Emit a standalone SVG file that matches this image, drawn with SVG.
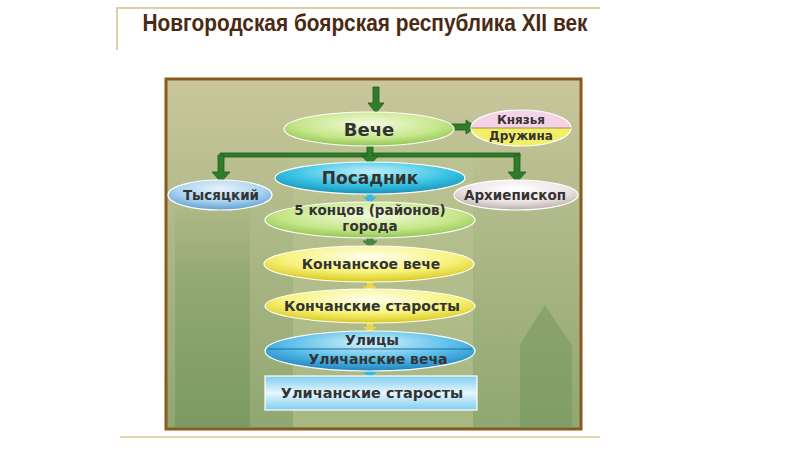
<svg xmlns="http://www.w3.org/2000/svg" width="800" height="450" viewBox="0 0 800 450">
<defs>
<linearGradient id="bg" x1="0" y1="0" x2="0" y2="1">
<stop offset="0" stop-color="#c9c79c"/><stop offset="0.45" stop-color="#adb887"/><stop offset="1" stop-color="#8fa772"/>
</linearGradient>
<linearGradient id="side" x1="0" y1="0" x2="0" y2="1"><stop offset="0" stop-color="#8aa26a" stop-opacity="0"/><stop offset="0.4" stop-color="#7f9c64" stop-opacity="0.5"/><stop offset="1" stop-color="#6f905a" stop-opacity="0.6"/></linearGradient>
<radialGradient id="gGreen" cx="0.5" cy="0.35" r="0.7"><stop offset="0" stop-color="#f4fbe0"/><stop offset="0.6" stop-color="#c6e68a"/><stop offset="1" stop-color="#86bf48"/></radialGradient>
<radialGradient id="gCyan" cx="0.5" cy="0.3" r="0.7"><stop offset="0" stop-color="#bff0fb"/><stop offset="0.6" stop-color="#39c3e3"/><stop offset="1" stop-color="#1790b8"/></radialGradient>
<radialGradient id="gLblue" cx="0.5" cy="0.3" r="0.7"><stop offset="0" stop-color="#e8f4fc"/><stop offset="0.6" stop-color="#a9d2f0"/><stop offset="1" stop-color="#5f9fd2"/></radialGradient>
<radialGradient id="gGrey" cx="0.5" cy="0.3" r="0.7"><stop offset="0" stop-color="#ffffff"/><stop offset="0.6" stop-color="#ece4e4"/><stop offset="1" stop-color="#b9aeae"/></radialGradient>
<radialGradient id="gYellow" cx="0.5" cy="0.3" r="0.7"><stop offset="0" stop-color="#fffff0"/><stop offset="0.6" stop-color="#f7f27a"/><stop offset="1" stop-color="#d8c81e"/></radialGradient>
<radialGradient id="gBlue" cx="0.5" cy="0.3" r="0.7"><stop offset="0" stop-color="#d9f2fc"/><stop offset="0.55" stop-color="#5cc0ea"/><stop offset="1" stop-color="#1d84c2"/></radialGradient>
<linearGradient id="gRect" x1="0" y1="0" x2="0" y2="1"><stop offset="0" stop-color="#7fcdf0"/><stop offset="0.5" stop-color="#e6f6fd"/><stop offset="1" stop-color="#7fcdf0"/></linearGradient>
</defs>
<style>
.t{font-family:"DejaVu Sans","Liberation Sans",sans-serif;font-weight:bold;fill:#333333;text-anchor:middle}
.s{font-size:14px}
.m{font-size:13.5px}
.n{stroke:#ffffff;stroke-width:1.2}
.ga{fill:#2f7d2a;stroke:#1f5a1c;stroke-width:0.8}
.ca{fill:#3ab8df}
.ya{fill:#e8d84a}
</style>
<rect width="800" height="450" fill="#ffffff"/>
<g id="title">
<path d="M117 50 V8 H600" fill="none" stroke="#d9bf86" stroke-width="1.5"/>
<text x="365" y="31" font-family="'Liberation Sans',Arial,sans-serif" font-weight="bold" font-size="24" fill="#4a2a12" text-anchor="middle" textLength="445" lengthAdjust="spacingAndGlyphs">Новгородская боярская республика XII век</text>
<line x1="120" y1="437" x2="600" y2="437" stroke="#e2c48c" stroke-width="1.5"/>
</g>
<g id="picture">
<rect x="166" y="79" width="415" height="350" fill="url(#bg)" stroke="#8a5a1c" stroke-width="3"/>
<rect x="293" y="145" width="180" height="282" fill="#bcc592" opacity="0.55"/>
<rect x="175" y="190" width="75" height="238" fill="url(#side)"/>
<path d="M520 428 V345 L532 325 L545 305 L558 325 L572 345 V428 Z" fill="#6f905a" opacity="0.45"/>
</g>
<g id="connectors">
<path class="ga" d="M373 87 H379 V103 H384 L376 113 L368 103 H373 Z"/>
<path class="ga" d="M448 124 H466 V120 L476 127 L466 134 V130 H448 Z"/>
<path class="ga" d="M220 153 H520 V157 H220 Z"/>
<path class="ga" d="M367 146 H373 V156 H378 L370 165 L362 156 H367 Z"/>
<path class="ga" d="M218 155 H224 V172 H230 L221 182 L212 172 H218 Z"/>
<path class="ga" d="M514 155 H520 V172 H526 L517 182 L508 172 H514 Z"/>
<path class="ca" d="M367 193 H373 V197 H377 L370 203 L363 197 H367 Z"/>
<path class="ga" d="M367 237 H373 V241 H377 L370 247 L363 241 H367 Z" opacity="0.8"/>
<path class="ya" d="M367 281 H373 V286 H377 L370 292 L363 286 H367 Z"/>
<path class="ya" d="M367 323 H373 V327 H377 L370 333 L363 327 H367 Z"/>
<path class="ca" d="M367 369 H373 V372 H377 L370 378 L363 372 H367 Z"/>
</g>
<g id="veche"><ellipse class="n" cx="369" cy="129" rx="85" ry="17" fill="url(#gGreen)"/><text class="t" x="369" y="136" font-size="18">Вече</text></g>
<g id="knyazya">
<path d="M471 128 A50 18 0 0 1 571 128 Z" fill="#f5d3e6"/>
<path d="M471 128 A50 18 0 0 0 571 128 Z" fill="#f2ee66"/>
<ellipse cx="521" cy="128" rx="50" ry="18" fill="none" stroke="#ffffff" stroke-width="1.2"/>
<line x1="471" y1="128" x2="571" y2="128" stroke="#8a7a40" stroke-width="0.8"/>
<text class="t" x="521" y="124" font-size="12">Князья</text>
<text class="t" x="521" y="140" font-size="12">Дружина</text>
</g>
<g id="posadnik"><ellipse class="n" cx="370" cy="178" rx="95" ry="16" fill="url(#gCyan)"/><text class="t" x="370" y="184" font-size="17">Посадник</text></g>
<g id="tysyatsky"><ellipse class="n" cx="220" cy="195" rx="52" ry="15" fill="url(#gLblue)"/><text class="t m" x="221" y="200">Тысяцкий</text></g>
<g id="arkhiepiskop"><ellipse class="n" cx="516" cy="195" rx="62" ry="15" fill="url(#gGrey)"/><text class="t m" x="515" y="200">Архиепископ</text></g>
<g id="kontsy"><ellipse class="n" cx="370" cy="220" rx="105" ry="18" fill="url(#gGreen)"/><text class="t m" x="370" y="215">5 концов (районов)</text><text class="t m" x="370" y="231">города</text></g>
<g id="konchanskoe-veche"><ellipse class="n" cx="369" cy="264" rx="105" ry="18" fill="url(#gYellow)"/><text class="t s" x="371" y="269">Кончанское вече</text></g>
<g id="konchanskie-starosty"><ellipse class="n" cx="370" cy="306" rx="105" ry="17" fill="url(#gYellow)"/><text class="t s" x="372" y="311">Кончанские старосты</text></g>
<g id="ulitsy"><ellipse class="n" cx="370" cy="351" rx="105" ry="20" fill="url(#gBlue)"/><line x1="268" y1="349" x2="472" y2="349" stroke="#1f6fa0" stroke-width="1"/><text class="t" x="372" y="345" font-size="14">Улицы</text><text class="t" x="378" y="364" font-size="14">Уличанские веча</text></g>
<g id="ulichanskie-starosty"><rect x="265" y="376" width="212" height="34" fill="url(#gRect)" stroke="#ffffff" stroke-width="1.2"/><text class="t" x="372" y="398" font-size="14.5">Уличанские старосты</text></g>
</svg>
